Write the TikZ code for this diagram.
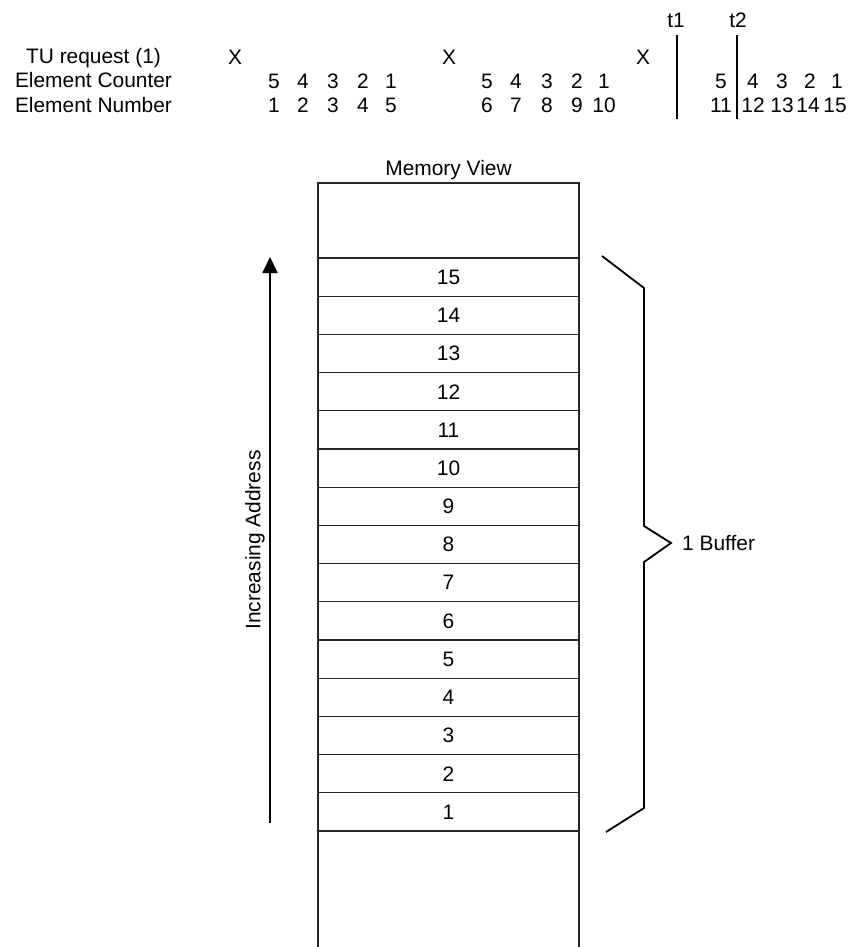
\documentclass[tikz,border=0pt]{standalone}
\usepackage{fontspec}
\setmainfont{Liberation Sans}
\usetikzlibrary{arrows.meta}
\begin{document}
\begin{tikzpicture}[x=1bp,y=-1bp,
  txt/.style={inner sep=0pt, font=\fontsize{21}{25}\selectfont},
  bl/.style={txt, anchor=base},
  boxline/.style={line width=1.2bp, black!85},
  heavy/.style={line width=1.8bp, black},
  upar/.style={heavy, -{Triangle[width=15bp,length=16bp]}}]
\useasboundingbox (0,0) rectangle (850,947);
% header labels
\node[bl] (tu) at (93.5,63.5) {TU request (1)};
\node[bl] (ec) at (93.5,87.5) {Element Counter};
\node[bl] (en) at (93.5,112) {Element Number};
% requests
\node[bl] (x1) at (235,64.5) {X};
\node[bl] (x2) at (449,64.5) {X};
\node[bl] (x3) at (643,64.5) {X};
% group 1
\foreach \xx/\c/\n [count=\i] in {274/5/1,303/4/2,333/3/3,363/2/4,391/1/5}{
  \node[bl] (c1-\i) at (\xx,88) {\c};
  \node[bl] (n1-\i) at (\xx,112) {\n};
}
% group 2
\foreach \xx/\c/\n [count=\i] in {487/5/6,516/4/7,547/3/8,577/2/9,604/1/10}{
  \node[bl] (c2-\i) at (\xx,88) {\c};
  \node[bl] (n2-\i) at (\xx,112) {\n};
}
% group 3
\foreach \xx/\c [count=\i] in {721/5,753/4,782/3,810/2,837/1}{
  \node[bl] (c3-\i) at (\xx,88) {\c};
}
\foreach \xx/\n [count=\i] in {721/11,753/12,782/13,808/14,835/15}{
  \node[bl] (n3-\i) at (\xx,112) {\n};
}
% time markers
\node[bl] (t1) at (676,27) {t1};
\node[bl] (t2) at (738,27) {t2};
\coordinate (t1a) at (677,35); \coordinate (t1b) at (677,119);
\coordinate (t2a) at (737,35); \coordinate (t2b) at (737,119);
\draw[heavy] (t1a) -- (t1b);
\draw[heavy] (t2a) -- (t2b);
% memory view
\node[bl] (mv) at (448.5,175) {Memory View};
\draw[boxline] (318,947) -- (318,183) -- (579,183) -- (579,947);
\foreach \i in {0,...,15}{
  \draw[boxline] (318,{258+38.2*\i}) -- (579,{258+38.2*\i});
}
\foreach \n in {1,...,15}{
  \node[txt] (m\n) at (448.5,{258+38.2*(15-\n)+19.1}) {\n};
}
% address arrow
\coordinate (abot) at (270,823);
\coordinate (atop) at (270,257);
\draw[upar] (abot) -- (atop);
\node[txt, rotate=90] (ia) at (255,540) {Increasing Address};
% buffer brace
\draw[heavy, line join=miter] (602,256) -- (644,288) -- (644,526) -- (671,543) -- (644,562) -- (644,808) -- (606,832);
\node[txt, anchor=base west] (buf) at (682,550.5) {1 Buffer};
\end{tikzpicture}
\end{document}
